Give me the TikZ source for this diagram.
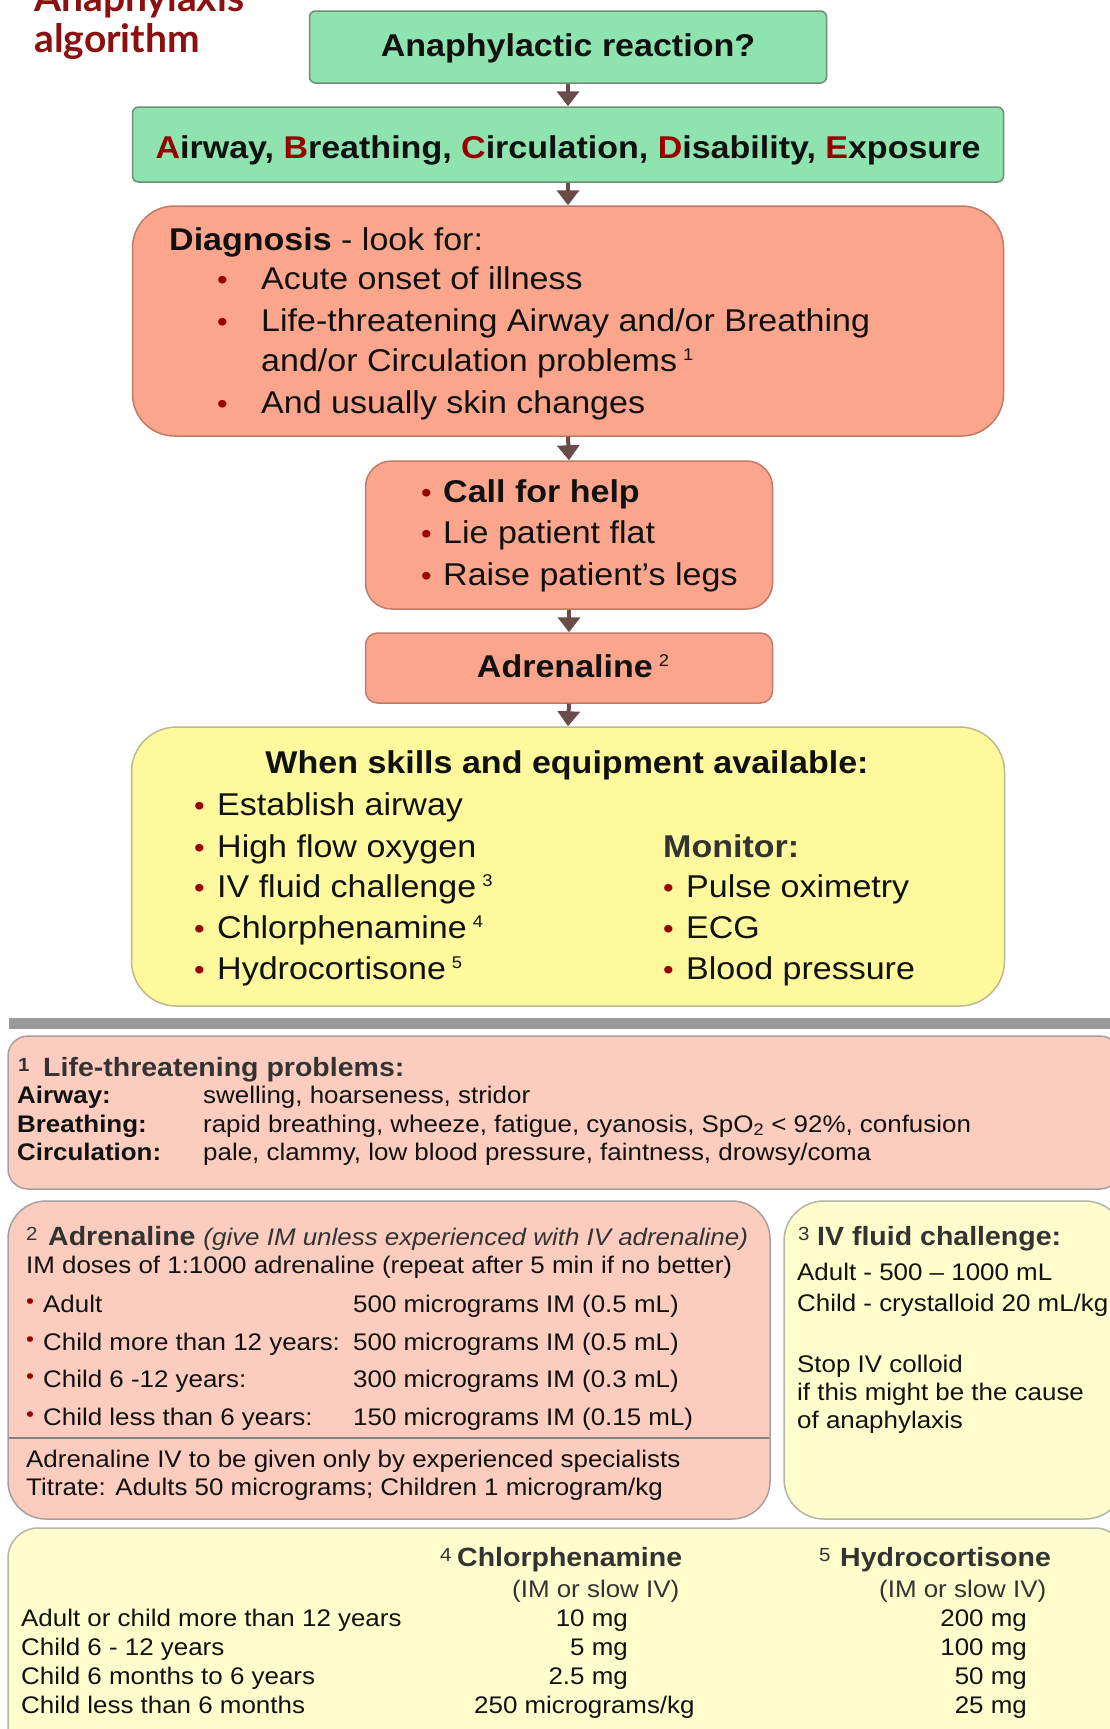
\documentclass[tikz,border=0pt]{standalone}
\usepackage{fontspec}
\setmainfont{Liberation Sans}[FakeStretch=1.08]
\newfontfamily\titlefont{Lato}
\usetikzlibrary{arrows.meta}
\definecolor{greenf}{HTML}{8FE3AE}
\definecolor{greend}{HTML}{6E8C78}
\definecolor{salf}{HTML}{FCA58D}
\definecolor{sald}{HTML}{C07A66}
\definecolor{yelf}{HTML}{FFF99D}
\definecolor{yeld}{HTML}{BDB98A}
\definecolor{pinkf}{HTML}{FCCDBE}
\definecolor{pinkd}{HTML}{A8A0A0}
\definecolor{creamf}{HTML}{FFFDCB}
\definecolor{creamd}{HTML}{B5B5A5}
\definecolor{arrowc}{HTML}{6B4A4A}
\definecolor{bulred}{HTML}{990000}
\definecolor{titlered}{HTML}{8B1010}
\definecolor{headgray}{HTML}{333333}
\definecolor{sepgray}{HTML}{9A9A9A}
\definecolor{ink}{HTML}{111111}
\newcommand\fsz[1]{\fontsize{#1pt}{#1pt}\selectfont}
\newcommand\rl[1]{\textcolor{bulred}{#1}}
\newcommand\bulT{\raisebox{0pt}{\textcolor{bulred}{\fsz{28}•}}}
\newcommand\bulS{\raisebox{4pt}{\textcolor{bulred}{\fsz{21}•}}}
\newcommand\bw[2]{\makebox[#1][l]{#2}}
\newcommand\supT[1]{\hspace{6pt}\raisebox{11pt}{\fsz{17}#1}}
\newcommand\numB[2]{\makebox[#1][l]{\raisebox{5pt}{\fsz{19}#2}}}
\begin{document}
\begin{tikzpicture}[x=1pt,y=-1pt,
  box/.style={rectangle, inner sep=0pt, line width=1.5pt},
  gbox/.style={box, fill=greenf, draw=greend, rounded corners=6pt},
  sbox/.style={box, fill=salf, draw=sald},
  ybox/.style={box, fill=yelf, draw=yeld, rounded corners=45pt},
  pbox/.style={box, fill=pinkf, draw=pinkd},
  cbox/.style={box, fill=creamf, draw=creamd},
  arr/.style={draw=arrowc, line width=4pt, -{Triangle[width=22pt,length=15pt]}},
  txt/.style={anchor=base west, inner sep=0pt, text=ink, font=\fsz{31.5}},
  ctxt/.style={txt, anchor=base},
  btxt/.style={anchor=base west, inner sep=0pt, text=ink, font=\fsz{24}},
  bhead/.style={anchor=base west, inner sep=0pt, text=headgray, font=\fsz{26.4}},
  bdose/.style={btxt, anchor=base east},
  ttl/.style={anchor=base west, inner sep=0pt, text=titlered, font=\titlefont\bfseries\fsz{39}}]
\useasboundingbox (0,0) rectangle (1110,1729);
\clip (0,0) rectangle (1110,1729);
\fill[white] (0,0) rectangle (1110,1729);

% title
\node[ttl] (tA) at (34,12) {Anaphylaxis};
\node[ttl] (tB) at (34,52) {algorithm};

% flow boxes
\node[gbox, minimum width=517pt, minimum height=72pt] (b1) at (568,47) {};
\node[gbox, minimum width=871pt, minimum height=75pt] (b2) at (568,144.5) {};
\node[sbox, rounded corners=42pt, minimum width=871pt, minimum height=230pt] (b3) at (568,321) {};
\node[sbox, rounded corners=26pt, minimum width=407pt, minimum height=148pt] (b4) at (569,535) {};
\node[sbox, rounded corners=12pt, minimum width=407pt, minimum height=70pt] (b5) at (569,668) {};
\node[ybox, minimum width=873pt, minimum height=279pt] (b6) at (568,866.5) {};

\draw[arr] (b1.south) -- (b2.north);
\draw[arr] (b2.south) -- (b3.north);
\draw[arr] (b3.south) -- (b4.north);
\draw[arr] (b4.south) -- (b5.north);
\draw[arr] (b5.south) -- (b6.north);

\node[ctxt, font=\bfseries\fsz{31.5}] (b1t) at (568,56.5) {Anaphylactic reaction?};
\node[ctxt, font=\bfseries\fsz{31.5}] (b2t) at (568,158) {\rl{A}irway, \rl{B}reathing, \rl{C}irculation, \rl{D}isability, \rl{E}xposure};

% diagnosis
\node[txt] (d0) at (169,250) {\textbf{Diagnosis} - look for:};
\node[txt] (d1) at (217,289) {\bw{44pt}{\bulT}Acute onset of illness};
\node[txt] (d2) at (217,331) {\bw{44pt}{\bulT}Life-threatening Airway and/or Breathing};
\node[txt] (d3) at (261,371) {and/or Circulation problems\supT{1}};
\node[txt] (d4) at (217,413) {\bw{44pt}{\bulT}And usually skin changes};

% call for help
\node[txt] (c1) at (421,502) {\bw{22pt}{\bulT}\textbf{Call for help}};
\node[txt] (c2) at (421,543) {\bw{22pt}{\bulT}Lie patient flat};
\node[txt] (c3) at (421,585) {\bw{22pt}{\bulT}Raise patient’s legs};

% adrenaline
\node[ctxt] (a1) at (573,677) {\textbf{Adrenaline}\supT{2}};

% skills
\node[ctxt, font=\bfseries\fsz{31.5}] (y0) at (567,773) {When skills and equipment available:};
\node[txt] (y1) at (194,815) {\bw{23pt}{\bulT}Establish airway};
\node[txt] (y2) at (194,857) {\bw{23pt}{\bulT}High flow oxygen};
\node[txt] (y3) at (194,897) {\bw{23pt}{\bulT}IV fluid challenge\supT{3}};
\node[txt] (y4) at (194,938) {\bw{23pt}{\bulT}Chlorphenamine\supT{4}};
\node[txt] (y5) at (194,979) {\bw{23pt}{\bulT}Hydrocortisone\supT{5}};
\node[txt, text=headgray] (m0) at (663,857) {\textbf{Monitor:}};
\node[txt] (m1) at (663,897) {\bw{23pt}{\bulT}Pulse oximetry};
\node[txt] (m2) at (663,938) {\bw{23pt}{\bulT}ECG};
\node[txt] (m3) at (663,979) {\bw{23pt}{\bulT}Blood pressure};

% separator bar
\fill[sepgray] (9,1018) rectangle (1112,1029);

% section 1
\node[pbox, rounded corners=20pt, minimum width=1112pt, minimum height=153pt] (s1) at (564,1112.5) {};
\node[bhead] (l0) at (18,1076) {\numB{25pt}{\textbf{1}}\textbf{Life-threatening problems:}};
\node[btxt] (la1) at (17,1103) {\textbf{Airway:}};
\node[btxt] (va1) at (203,1103) {swelling, hoarseness, stridor};
\node[btxt] (la2) at (17,1132) {\textbf{Breathing:}};
\node[btxt] (va2) at (203,1132) {rapid breathing, wheeze, fatigue, cyanosis, SpO\textsubscript{2} < 92\%, confusion};
\node[btxt] (la3) at (17,1160) {\textbf{Circulation:}};
\node[btxt] (va3) at (203,1160) {pale, clammy, low blood pressure, faintness, drowsy/coma};

% section 2
\node[pbox, rounded corners=38pt, minimum width=762pt, minimum height=318pt] (s2) at (389,1360) {};
\draw[pinkd!80!black, line width=2.5pt] (9,1438) -- (769,1438);
\node[bhead] (h2) at (26,1245) {\numB{22pt}{2}\textbf{Adrenaline} {\fsz{24}\itshape(give IM unless experienced with IV adrenaline)}};
\node[btxt] (i1) at (26,1273) {IM doses of 1:1000 adrenaline (repeat after 5 min if no better)};
\node[btxt] (r1) at (26,1312) {\bw{17pt}{\bulS}Adult};
\node[btxt] (r2) at (26,1350) {\bw{17pt}{\bulS}Child more than 12 years:};
\node[btxt] (r3) at (26,1387) {\bw{17pt}{\bulS}Child 6 -12 years:};
\node[btxt] (r4) at (26,1425) {\bw{17pt}{\bulS}Child less than 6 years:};
\node[btxt] (q1) at (353,1312) {500 micrograms IM (0.5 mL)};
\node[btxt] (q2) at (353,1350) {500 micrograms IM (0.5 mL)};
\node[btxt] (q3) at (353,1387) {300 micrograms IM (0.3 mL)};
\node[btxt] (q4) at (353,1425) {150 micrograms IM (0.15 mL)};
\node[btxt] (n1) at (26,1467) {Adrenaline IV to be given only by experienced specialists};
\node[btxt] (n2) at (26,1495) {Titrate: Adults 50 micrograms; Children 1 microgram/kg};

% section 3
\node[cbox, rounded corners=40pt, minimum width=341pt, minimum height=318pt] (s3) at (954.5,1360) {};
\node[bhead] (f0) at (798,1245) {\numB{19pt}{3}\textbf{IV fluid challenge:}};
\node[btxt] (f1) at (797,1280) {Adult - 500 -- 1000 mL};
\node[btxt] (f2) at (797,1311) {Child - crystalloid 20 mL/kg};
\node[btxt] (f3) at (797,1372) {Stop IV colloid};
\node[btxt] (f4) at (797,1400) {if this might be the cause};
\node[btxt] (f5) at (797,1428) {of anaphylaxis};

% section 4/5
\node[cbox, rounded corners=30pt, minimum width=1117pt, minimum height=232pt] (s4) at (566.5,1644) {};
\node[bhead] (g0) at (440,1566) {\numB{17pt}{4}\textbf{Chlorphenamine}};
\node[btxt, text=headgray] (g1) at (512,1597) {(IM or slow IV)};
\node[bhead] (k0) at (819,1566) {\numB{21pt}{5}\textbf{Hydrocortisone}};
\node[btxt, text=headgray] (k1) at (879,1597) {(IM or slow IV)};
\node[btxt] (e1) at (21,1626) {Adult or child more than 12 years};
\node[btxt] (e2) at (21,1655) {Child 6 - 12 years};
\node[btxt] (e3) at (21,1684) {Child 6 months to 6 years};
\node[btxt] (e4) at (21,1713) {Child less than 6 months};
\node[bdose] (o1) at (628,1626) {10 mg};
\node[bdose] (o2) at (628,1655) {5 mg};
\node[bdose] (o3) at (628,1684) {2.5 mg};
\node[btxt] (o4) at (474,1713) {250 micrograms/kg};
\node[bdose] (p1) at (1027,1626) {200 mg};
\node[bdose] (p2) at (1027,1655) {100 mg};
\node[bdose] (p3) at (1027,1684) {50 mg};
\node[bdose] (p4) at (1027,1713) {25 mg};
\end{tikzpicture}
\end{document}
